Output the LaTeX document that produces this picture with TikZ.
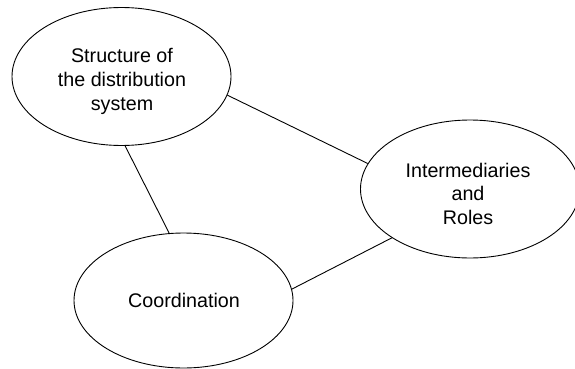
\documentclass[tikz,border=0pt]{standalone}
\usepackage{fontspec}
\setmainfont{Liberation Sans}
\usetikzlibrary{shapes.geometric}
\begin{document}
\begin{tikzpicture}[x=1pt,y=-1pt,
  topic/.style={draw=black, line width=0.9pt, ellipse, inner sep=0pt,
                minimum width=219pt, minimum height=138pt},
  caption/.style={font=\fontsize{19.7pt}{23.7pt}\selectfont, align=center, inner sep=0pt},
  link/.style={draw=black, line width=0.9pt}]
\useasboundingbox[fill=white] (0,0) rectangle (575,369);

% the three topics
\node[topic] (struct) at (121.5,76.5) {};
\node[topic] (inter) at (470,189) {};
\node[topic, minimum height=135pt] (coord) at (183.5,300.5) {};

% their captions
\node[caption] (structtxt) at (122,81.3) {Structure of\\the distribution\\system};
\node[caption] (intertxt) at (468,193.8) {Intermediaries\\and\\Roles};
\node[caption] (coordtxt) at (184,300.8) {Coordination};

% connections between the topics
\draw[link] (struct.-87) -- (coord.102.9);
\draw[link] (struct.-10.5) -- (inter.166.8);
\draw[link] (coord.6) -- (inter.212.5);
\end{tikzpicture}
\end{document}
